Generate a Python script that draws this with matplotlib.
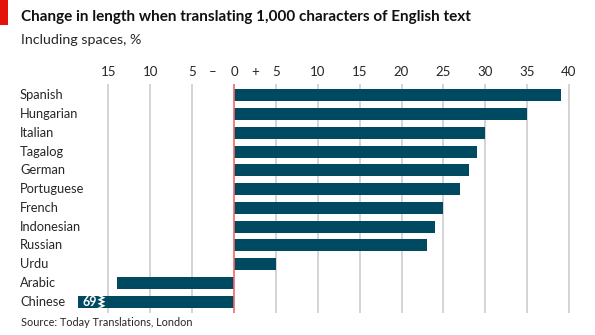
import numpy as np
import matplotlib
matplotlib.use('Agg')
import matplotlib.pyplot as plt
from matplotlib.patches import Polygon, Rectangle

plt.rcParams['font.family'] = ['Lato', 'DejaVu Sans']

languages = ['Spanish', 'Hungarian', 'Italian', 'Tagalog', 'German', 'Portuguese',
             'French', 'Indonesian', 'Russian', 'Urdu', 'Arabic', 'Chinese']
change = [39, 35, 30, 29, 28, 27, 25, 24, 23, 5, -14, -69]

tick_pos = [-15, -10, -5, -2.5, 0, 2.5, 5, 10, 15, 20, 25, 30, 35, 40]
tick_lab = ['15', '10', '5', '\u2013', '0', '+', '5', '10', '15', '20', '25', '30', '35', '40']
grid_pos = [-15, -10, -5, 5, 10, 15, 20, 25, 30, 35, 40]

bar_col = '#004a61'
txt_col = '#262626'
clip = -18.6  # where the off-scale bar is cut

fig = plt.figure(figsize=(5.95, 3.35), dpi=100)
W, H = 595, 335
x0, x1 = 76, 585
y_top, y_bot = 84, 313
ax = fig.add_axes([x0 / W, 1 - y_bot / H, (x1 - x0) / W, (y_bot - y_top) / H])
xmin = (x0 - 234) / 8.375
xmax = (x1 - 234) / 8.375
ax.set_xlim(xmin, xmax)
ax.set_ylim(len(languages) - 0.4, -0.6)

for g in grid_pos:
    ax.axvline(g, color='#c9c9c9', lw=1.1, zorder=0)

y = np.arange(len(languages))
shown = [max(v, clip) for v in change]
ax.barh(y, shown, height=0.64, color=bar_col, zorder=2)
ax.axvline(0, color='#f06a6a', lw=1.2, zorder=3)

# break in the Chinese bar
ci = languages.index('Chinese')
bx = -15.6
zz_x, zz_y = [], []
n = 6
for k in range(n + 1):
    yy = ci - 0.32 + 0.64 * k / n
    zz_y.append(yy)
    zz_x.append(bx + (0.25 if k % 2 else -0.25))
left = [xx - 0.45 for xx in zz_x]
pts = list(zip(left, zz_y)) + list(zip(zz_x[::-1], zz_y[::-1]))
ax.add_patch(Polygon(pts, closed=True, facecolor='white', edgecolor='none', zorder=4))
ax.text(clip + 0.55, ci, str(abs(change[ci])), color='white', fontsize=9, fontweight='bold',
        va='center', ha='left', zorder=5)

ax.set_yticks(y)
ax.set_yticklabels([])
for i, lang in enumerate(languages):
    ax.annotate(lang, xy=(20 / W, i), xycoords=('figure fraction', 'data'),
                fontsize=9.3, color=txt_col, va='center', ha='left', annotation_clip=False)

ax.set_xticks(tick_pos)
ax.set_xticklabels(tick_lab, fontsize=9.5, color=txt_col)
ax.xaxis.tick_top()
ax.tick_params(axis='x', length=0, pad=4)
ax.tick_params(axis='y', length=0)
for s in ax.spines.values():
    s.set_visible(False)

fig.patches.append(Rectangle((0, 1 - 25 / H), 8 / W, 25 / H, transform=fig.transFigure,
                             facecolor='#e3120b', edgecolor='none'))
fig.text(21 / W, 1 - 21 / H, 'Change in length when translating 1,000 characters of English text',
         fontsize=11, fontweight='bold', color='#111111', va='baseline')
fig.text(21 / W, 1 - 44 / H, 'Including spaces, %', fontsize=10.3, color=txt_col, va='baseline')
fig.text(21 / W, 1 - 326 / H, 'Source: Today Translations, London', fontsize=7.8,
         color=txt_col, va='baseline')

fig.savefig('out.png', dpi=100)
